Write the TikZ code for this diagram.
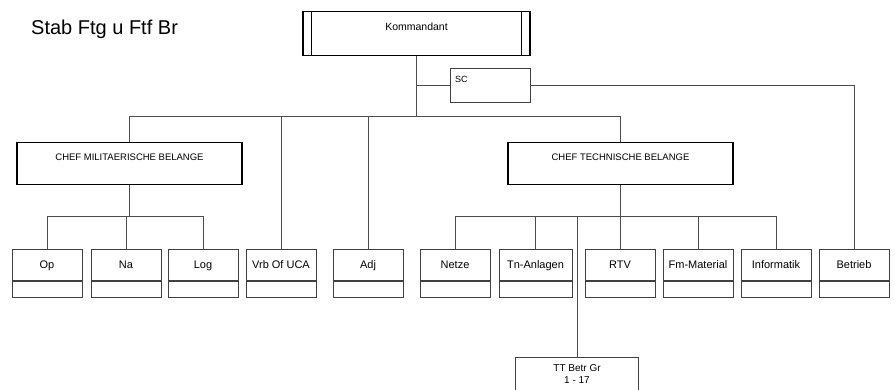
\documentclass[tikz,border=0pt]{standalone}
\usepackage{fontspec}
\setmainfont{Liberation Sans}
\usetikzlibrary{positioning}
\tikzset{>=latex}
\tikzset{
  chief/.style={draw, line width=1.2pt, inner sep=0pt, minimum width=225pt,
    font=\fontsize{9.5}{11}\selectfont, text height=17.5pt, text depth=24.5pt},
  unit/.style={draw=black!75, line width=0.6pt, inner sep=0pt, outer sep=0pt, minimum width=70pt,
    font=\fontsize{11}{13}\selectfont, text height=20pt, text depth=28pt,
    path picture={\draw[line width=1.1pt]
      ([yshift=16pt]path picture bounding box.south west) --
      ([yshift=16pt]path picture bounding box.south east);}},
  staff/.style={draw=black!75, line width=0.6pt, inner ysep=0pt, inner xsep=5pt,
    text width=70pt, align=left, font=\fontsize{9}{11}\selectfont,
    text height=14pt, text depth=20pt},
  group/.style={draw=black!75, line width=0.6pt, inner ysep=7.5pt, minimum width=123pt,
    align=center, font=\fontsize{10}{11.5}\selectfont, text depth=25pt},
  link/.style={draw=black!70, line width=0.6pt},
}

\begin{document}
\begin{tikzpicture}[x=1pt, y=-1pt]
  \useasboundingbox (0,0) rectangle (895,390);

  % Nodes
  \node[anchor=base west, inner sep=0pt, font=\fontsize{20}{24}\selectfont] (title) at (31,35) {Stab Ftg u Ftf Br};
  \node[chief, anchor=north, minimum width=227pt, font=\fontsize{10.5}{12}\selectfont,
    text height=18.7pt, text depth=25.3pt] (kdt) at (416.5,11) {Kommandant};
  \node[staff, anchor=north] (sc) at (490,68) {SC};
  \node[chief, anchor=north] (cmb) at (129.5,142) {CHEF MILITAERISCHE BELANGE};
  \node[chief, anchor=north] (ctb) at (620.5,142) {CHEF TECHNISCHE BELANGE};

  \node[unit, anchor=north west] (op) at (12,249) {Op};
  \node[unit, right=9pt of op]       (na)      {Na};
  \node[unit, right=7pt of na]       (log)     {Log};
  \node[unit, right=8pt of log]      (vrb)     {Vrb Of UCA};
  \node[unit, right=17pt of vrb]     (adj)     {Adj};
  \node[unit, right=17pt of adj]     (netze)   {Netze};
  \node[unit, right=9pt of netze, minimum width=73pt] (tn) {Tn-Anlagen};
  \node[unit, right=13pt of tn]      (rtv)     {RTV};
  \node[unit, right=8pt of rtv]      (fm)      {Fm-Material};
  \node[unit, right=8pt of fm]       (info)    {Informatik};
  \node[unit, right=8pt of info]     (betrieb) {Betrieb};

  \node[group, anchor=north] (tt) at (577,357) {TT Betr Gr\\1 - 17};

  \coordinate[below=60pt of kdt.south] (top);
  \coordinate[below=31pt of cmb.south] (milbus);
  \coordinate[below=31pt of ctb.south] (techbus);

  % Inner sides of the commander box
  \draw[line width=0.6pt] ([xshift=9pt]kdt.north west) -- ([xshift=9pt]kdt.south west);
  \draw[line width=0.6pt] ([xshift=-9pt]kdt.north east) -- ([xshift=-9pt]kdt.south east);

  % Edges
  \draw[link] (kdt.south) -- (top);
  \draw[link] (kdt.south |- sc.west) -- (sc.west);
  \draw[link] (sc.east) -| (betrieb.north);
  \draw[link] (top) -| (cmb.north);
  \draw[link] (top) -| (vrb.north);
  \draw[link] (top) -| (adj.north);
  \draw[link] (top) -| (ctb.north);

  \draw[link] (cmb.south) -- (milbus);
  \draw[link] (milbus) -| (op.north);
  \draw[link] (milbus) -| (na.north);
  \draw[link] (milbus) -| (log.north);

  \draw[link] (ctb.south) -- (techbus);
  \draw[link] (techbus) -| (netze.north);
  \draw[link] (techbus) -| (tn.north);
  \draw[link] (techbus) -| (rtv.north);
  \draw[link] (techbus) -| (fm.north);
  \draw[link] (techbus) -| (info.north);
  \draw[link] (techbus) -| (tt.north);

\end{tikzpicture}
\end{document}
